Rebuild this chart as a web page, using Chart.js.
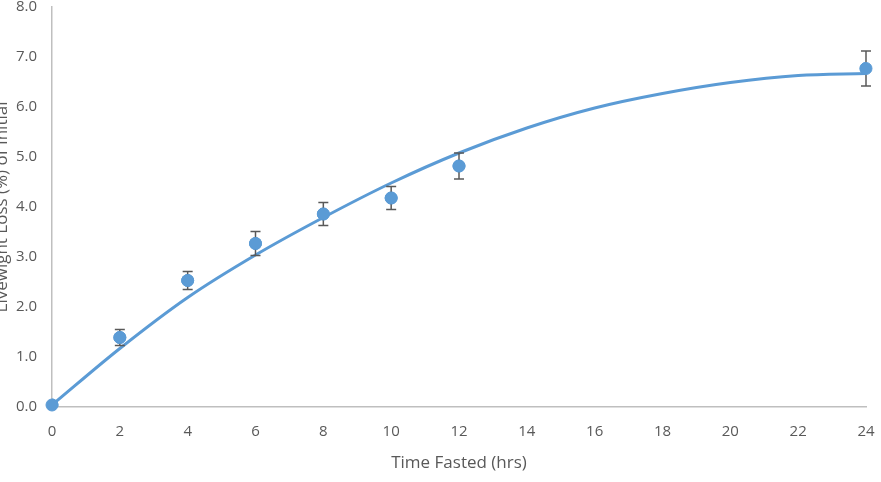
<!DOCTYPE html>
<html>
<head>
<meta charset="utf-8">
<script src="https://cdn.jsdelivr.net/npm/chart.js@4.4.1/dist/chart.umd.min.js"></script>
<style>
  html, body { margin: 0; padding: 0; background: #fff; overflow: hidden; }
  #wrap { position: absolute; left: -8px; top: 0; width: 889px; height: 482px; }
</style>
</head>
<body>
<div id="wrap"><canvas id="lossChart"></canvas></div>
<script>
// measured points
var hours = [0, 2, 4, 6, 8, 10, 12, 24];
var loss = [0.04, 1.39, 2.53, 3.27, 3.86, 4.18, 4.82, 6.77];
var lossErr = [0, 0.16, 0.18, 0.24, 0.23, 0.23, 0.26, 0.35];

// trendline
var trendHours = [0, 2, 4, 6, 8, 10, 12, 14, 16, 18, 20, 22, 24];
var trendLoss = [0.04, 1.17, 2.19, 3.04, 3.79, 4.48, 5.08, 5.58, 5.98, 6.27, 6.49, 6.63, 6.67];

var xTicks = [0, 2, 4, 6, 8, 10, 12, 14, 16, 18, 20, 22, 24];
var yTicks = [0, 1, 2, 3, 4, 5, 6, 7, 8];

var blue = '#5b9bd5';
var grey = '#595959';

var errorBars = {
  id: 'errorBars',
  afterDatasetsDraw: function(chart) {
    var ctx = chart.ctx;
    var xs = chart.scales.x, ys = chart.scales.y;
    ctx.save();
    ctx.strokeStyle = grey;
    ctx.lineWidth = 1.5;
    for (var i = 0; i < hours.length; i++) {
      if (!lossErr[i]) continue;
      var px = xs.getPixelForValue(hours[i]);
      var top = ys.getPixelForValue(loss[i] + lossErr[i]);
      var bot = ys.getPixelForValue(loss[i] - lossErr[i]);
      ctx.beginPath();
      ctx.moveTo(px, top); ctx.lineTo(px, bot);
      ctx.moveTo(px - 5, top); ctx.lineTo(px + 5, top);
      ctx.moveTo(px - 5, bot); ctx.lineTo(px + 5, bot);
      ctx.stroke();
    }
    ctx.restore();
    // redraw points above bars
    chart.getDatasetMeta(1).controller.draw();
  }
};

var ctx = document.getElementById('lossChart').getContext('2d');
var lossChart = new Chart(ctx, {
  type: 'scatter',
  data: {
    datasets: [{
      label: 'Trend',
      data: trendHours.map(function(h, i) { return { x: h, y: trendLoss[i] }; }),
      showLine: true,
      borderColor: blue,
      borderWidth: 3,
      pointRadius: 0,
      cubicInterpolationMode: 'monotone'
    }, {
      label: 'Loss',
      data: hours.map(function(h, i) { return { x: h, y: loss[i] }; }),
      backgroundColor: blue,
      borderColor: blue,
      pointRadius: 6,
      pointHoverRadius: 6
    }]
  },
  options: {
    responsive: true,
    maintainAspectRatio: false,
    animation: false,
    layout: { padding: { top: 5, right: 15 } },
    plugins: { legend: { display: false }, tooltip: { enabled: false } },
    scales: {
      x: {
        type: 'linear',
        min: 0, max: 24,
        afterBuildTicks: function(s) { s.ticks = xTicks.map(function(v) { return { value: v }; }); },
        afterFit: function(s) { s.height = 75; s.paddingLeft = 0; s.paddingRight = 0; },
        grid: { display: false, drawTicks: false },
        border: { display: true, color: '#bfbfbf', width: 1.5 },
        ticks: { color: grey, padding: 16, font: { family: 'Open Sans', size: 15 } },
        title: {
          display: true, text: 'Time Fasted (hrs)', color: grey,
          font: { family: 'Open Sans', size: 17 }, padding: { top: 0, bottom: 9 }
        }
      },
      y: {
        min: 0, max: 8,
        afterBuildTicks: function(s) { s.ticks = yTicks.map(function(v) { return { value: v }; }); },
        afterFit: function(s) { s.width = 60; s.paddingTop = 0; s.paddingBottom = 0; },
        grid: { display: false, drawTicks: false },
        border: { display: true, color: '#bfbfbf', width: 1.5 },
        ticks: {
          color: grey, padding: 15, font: { family: 'Open Sans', size: 15 },
          callback: function(v) { return v.toFixed(1); }
        },
        title: {
          display: true, text: 'Livewight Loss (%) of Initial', color: grey,
          font: { family: 'Open Sans', size: 17 }, padding: 0
        }
      }
    }
  },
  plugins: [errorBars]
});
</script>
</body>
</html>
